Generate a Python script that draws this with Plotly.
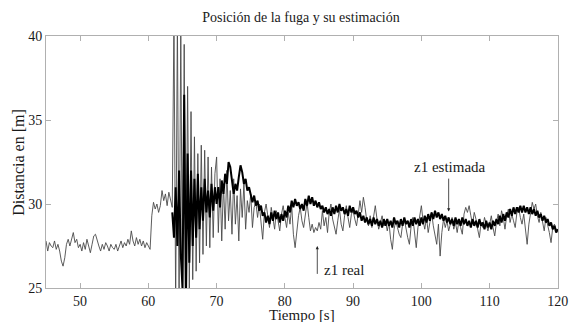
import numpy as np
import plotly.graph_objects as go

# ---- data ----
t_real_start, t_est_start, dt = 45.0, 63.5, 0.25

z1_real = [
    27.8, 27.2, 27.7, 27.5, 27.4, 27.8, 27.3, 27.6, 27.2, 26.6, 26.3, 26.8, 27.6, 27.9, 27.5, 28.0, 28.3, 27.7, 27.9, 27.4,
    27.6, 27.2, 27.7, 27.3, 27.9, 27.5, 27.1, 27.6, 28.1, 28.2, 27.8, 27.5, 27.2, 27.6, 27.3, 27.7, 27.5, 27.2, 27.6, 27.4,
    27.3, 27.6, 27.2, 27.5, 27.8, 27.4, 27.7, 27.5, 27.9, 27.6, 28.4, 27.8, 27.5, 28.0, 27.6, 27.9, 27.5, 27.8, 27.4, 27.7,
    27.5, 27.3, 29.3, 30.1, 29.7, 30.0, 29.5, 29.9, 30.8, 30.2, 30.6, 29.9, 30.7, 30.3, 29.8, 41.0, 24.0, 41.0, 24.0, 40.5,
    24.0, 39.5, 24.5, 37.0, 25.0, 35.5, 25.5, 34.0, 26.0, 33.0, 26.5, 33.5, 27.0, 33.2, 27.5, 32.8, 27.4, 32.2, 28.0, 31.8,
    32.8, 28.3, 31.5, 27.8, 31.2, 28.5, 32.0, 29.0, 30.8, 28.2, 31.5, 28.8, 30.5, 27.8, 30.9, 29.2, 31.2, 28.5, 30.2, 29.5,
    30.6, 28.6, 29.8, 30.1, 29.2, 30.0, 28.8, 27.9, 29.5, 30.0, 29.3, 28.6, 29.8, 29.1, 28.5, 29.6, 29.0, 28.4, 29.4, 29.9,
    29.2, 28.6, 29.5, 28.8, 29.9, 28.2, 27.4, 28.5, 29.3, 29.8, 29.0, 28.6, 29.5, 30.1, 29.2, 28.4, 28.8, 28.3, 28.6, 28.4,
    28.9, 28.5, 29.6, 28.7, 29.2, 28.3, 29.5, 30.0, 29.1, 28.6, 28.2, 29.0, 29.7, 28.8, 28.4, 29.3, 29.9, 29.2, 28.6, 29.4,
    29.6, 29.1, 28.7, 29.4, 30.2, 29.5, 30.4, 29.8, 29.0, 28.7, 29.3, 28.6, 29.2, 29.9, 29.1, 28.5, 28.9, 29.3, 28.7, 29.0,
    28.4, 28.9, 27.9, 27.3, 28.5, 29.0, 28.6, 28.2, 28.0, 28.8, 29.1, 28.5, 28.0, 27.6, 28.7, 29.2, 28.4, 27.4, 28.6, 29.3,
    29.9, 29.0, 28.5, 29.2, 28.3, 28.9, 29.5, 28.7, 28.1, 27.6, 28.8, 26.9, 28.3, 29.1, 28.6, 29.0, 28.4, 28.8, 29.2, 28.5,
    28.9, 28.3, 29.0, 28.6, 28.2, 29.4, 29.8, 29.5, 29.9, 29.3, 28.8, 29.5, 29.1, 28.5, 28.0, 28.9, 28.6, 29.2, 28.7, 28.4,
    28.8, 29.3, 28.6, 28.1, 28.9, 29.4, 28.7, 29.6, 29.2, 28.5, 29.3, 29.7, 28.9, 29.4, 29.0, 28.6, 29.5, 29.8, 29.2, 28.8,
    29.4, 28.5, 27.6, 28.8, 29.6, 30.1, 29.7, 30.0, 29.3, 28.9, 29.5, 29.0, 28.4, 29.2, 28.8, 28.3, 27.7, 28.6, 28.8, 28.5,
    28.4,
]

z1_estimada = [
    29.5, 28.0, 31.0, 27.5, 32.0, 27.0,
    25.0, 36.5, 24.0, 33.0, 26.5, 32.0, 27.5, 31.5, 28.0, 31.8, 28.5, 31.0, 29.0, 31.5, 29.5, 30.8, 29.2, 31.2, 29.6, 31.0,
    30.0, 31.0, 29.8, 31.4, 30.6, 31.8, 31.2, 32.5, 32.2, 31.5, 30.6, 31.2, 30.8, 31.6, 32.3, 31.9, 31.2, 31.5, 30.8, 31.0,
    30.6, 30.1, 30.5, 29.9, 30.2, 29.6, 29.9, 29.3, 29.5, 28.9, 29.3, 28.8, 29.5, 29.0, 29.6, 29.1, 29.5, 28.9, 29.4, 29.0,
    29.6, 29.2, 29.9, 29.5, 30.2, 29.8, 30.3, 29.9, 30.1, 29.7, 30.0, 29.6, 30.3, 29.9, 30.5, 30.0, 30.4, 29.9, 30.2, 29.8,
    30.1, 29.7, 29.9, 29.5, 29.8, 29.4, 29.7, 29.3, 29.8, 29.4, 29.9, 29.5, 30.0, 29.6, 29.8, 29.4, 29.7, 29.3, 29.9, 29.5,
    29.8, 29.4, 29.6, 29.2, 29.5, 29.0, 29.3, 28.9, 29.2, 28.8, 29.1, 28.7, 29.2, 28.8, 29.1, 28.7, 29.0, 28.6, 29.1, 28.7,
    29.1, 28.7, 29.0, 28.6, 29.2, 28.8, 29.0, 28.6, 29.1, 28.7, 29.2, 28.8, 29.0, 28.6, 29.1, 28.7, 29.2, 28.8, 29.1, 28.7,
    29.2, 28.8, 29.3, 28.9, 29.4, 29.0, 29.5, 29.1, 29.6, 29.2, 29.5, 29.1, 29.4, 29.0, 29.3, 28.9, 29.2, 28.8, 29.1, 28.7,
    29.2, 28.8, 29.1, 28.7, 29.2, 28.8, 29.1, 28.7, 29.0, 28.6, 29.1, 28.7, 29.0, 28.6, 29.1, 28.7, 28.9, 28.5, 29.0, 28.6,
    28.9, 28.5, 29.0, 28.7, 29.1, 28.8, 29.3, 28.9, 29.4, 29.0, 29.5, 29.2, 29.7, 29.3, 29.8, 29.4, 29.8, 29.5, 29.9, 29.5,
    29.9, 29.5, 29.8, 29.4, 29.8, 29.4, 29.7, 29.3, 29.6, 29.2, 29.4, 29.0, 29.3, 28.9, 29.1, 28.7, 28.9, 28.5, 28.7, 28.3,
    28.5,
]

x_ticks = [50, 60, 70, 80, 90, 100, 110, 120]
y_ticks = [25, 30, 35, 40]

t_real = t_real_start + dt * np.arange(len(z1_real))
t_est = t_est_start + dt * np.arange(len(z1_estimada))

FONT = "Liberation Serif"
TXT = "#1a1a1a"

fig = go.Figure()
fig.add_trace(go.Scatter(x=t_real, y=z1_real, mode="lines",
                         line=dict(color="#4a4a4a", width=0.9), name="z1 real"))
fig.add_trace(go.Scatter(x=t_est, y=z1_estimada, mode="lines",
                         line=dict(color="#000000", width=2.0), name="z1 estimada"))

axis_common = dict(showgrid=False, zeroline=False, showline=True, mirror="ticks",
                   linecolor="#b0b0b0", linewidth=1, ticks="inside", ticklen=5,
                   tickcolor="#b0b0b0", ticklabeloverflow="allow", automargin=False,
                   tickfont=dict(family=FONT, size=14, color=TXT))
fig.update_xaxes(range=[45, 120.02], tickvals=x_ticks, **axis_common)
fig.update_yaxes(range=[25, 40], tickvals=y_ticks, **axis_common)

fig.add_annotation(x=104.0, y=29.55, ax=104.0, ay=31.6, xref="x", yref="y",
                   axref="x", ayref="y", showarrow=True, arrowhead=2, arrowsize=0.8,
                   arrowwidth=0.8, arrowcolor="#222", text="")
fig.add_annotation(x=104.2, y=32.22, xref="x", yref="y", showarrow=False,
                   text="z1 estimada", font=dict(family=FONT, size=15, color=TXT))
fig.add_annotation(x=84.75, y=27.5, ax=84.75, ay=25.75, xref="x", yref="y",
                   axref="x", ayref="y", showarrow=True, arrowhead=2, arrowsize=0.8,
                   arrowwidth=0.8, arrowcolor="#222", text="")
fig.add_annotation(x=88.7, y=26.1, xref="x", yref="y", showarrow=False,
                   text="z1 real", font=dict(family=FONT, size=15, color=TXT))

fig.add_annotation(x=0.5, y=-0.108, xref="paper", yref="paper", showarrow=False,
                   text="Tiempo [s]", yanchor="middle",
                   font=dict(family=FONT, size=15, color=TXT))
fig.add_annotation(x=-0.055, y=0.5, xref="paper", yref="paper", showarrow=False,
                   text="Distancia en [m]", textangle=-90, xanchor="center", yanchor="middle",
                   font=dict(family=FONT, size=16, color=TXT))

fig.update_layout(
    width=569, height=322,
    margin=dict(l=46, r=11, t=36, b=34),
    paper_bgcolor="white", plot_bgcolor="white",
    showlegend=False,
    font=dict(family=FONT, color=TXT),
    title=dict(text="Posición de la fuga y su estimación", x=0.529, xanchor="center",
               y=0.947, yanchor="middle", yref="container",
               font=dict(family=FONT, size=14, color=TXT)),
)

fig.write_html("out.html", config={"displayModeBar": False},
               post_script="document.body.style.margin='0';document.body.style.overflow='hidden';")
